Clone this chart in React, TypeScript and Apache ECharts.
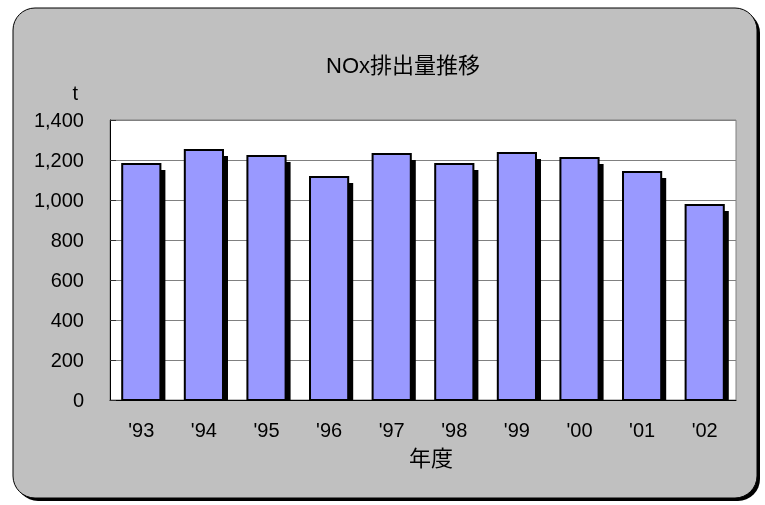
import React, { useEffect, useRef } from "react";
import * as echarts from "echarts";

// 年度別 NOx 排出量 (t)
const years = ["'93", "'94", "'95", "'96", "'97", "'98", "'99", "'00", "'01", "'02"];
const noxTonnes = [1180, 1250, 1220, 1115, 1230, 1180, 1235, 1210, 1140, 975];
const yTicks = { min: 0, max: 1400, interval: 200 };

const FONT = "'Liberation Sans', 'Noto Sans CJK JP', sans-serif";

export default function App() {
  const ref = useRef<HTMLDivElement>(null);

  useEffect(() => {
    if (!ref.current) return;
    const chart = echarts.init(ref.current, null, { renderer: "svg" });

    const option: any = {
      animation: false,
      textStyle: { fontFamily: FONT },
      graphic: [
        {
          type: "rect",
          z: -20,
          silent: true,
          shape: { x: 16, y: 11, width: 744, height: 490, r: 22 },
          style: { fill: "#000" },
        },
        {
          type: "rect",
          z: -10,
          silent: true,
          shape: { x: 13, y: 8, width: 744, height: 490, r: 22 },
          style: { fill: "#c0c0c0", stroke: "#000", lineWidth: 1 },
        },
      ],
      title: {
        text: "NOx排出量推移",
        left: 398,
        top: 49,
        textAlign: "center",
        textStyle: { fontFamily: FONT, fontSize: 22, fontWeight: "normal", color: "#000" },
      },
      grid: {
        left: 110,
        right: 29,
        top: 120,
        bottom: 105,
        show: true,
        backgroundColor: "#fff",
        borderColor: "#808080",
        borderWidth: 1,
      },
      xAxis: {
        type: "category",
        data: years,
        name: "年度",
        nameLocation: "middle",
        nameGap: 47,
        nameTextStyle: { fontFamily: FONT, fontSize: 22, color: "#000", padding: [0, 0, 0, 16] },
        axisLine: { lineStyle: { color: "#000", width: 1 } },
        axisTick: { show: false },
        axisLabel: { fontFamily: FONT, fontSize: 20, color: "#000", margin: 20 },
      },
      yAxis: {
        type: "value",
        min: yTicks.min,
        max: yTicks.max,
        interval: yTicks.interval,
        name: "t",
        nameLocation: "end",
        nameGap: 17,
        nameTextStyle: { fontFamily: FONT, fontSize: 20, color: "#000", align: "right", padding: [0, 32, 0, 0] },
        axisLine: { show: true, lineStyle: { color: "#000", width: 1 } },
        axisTick: { show: true, inside: true, length: 6, lineStyle: { color: "#333" } },
        axisLabel: {
          fontFamily: FONT,
          fontSize: 20,
          color: "#000",
          margin: 26,
          formatter: (v: number) => v.toLocaleString("en-US"),
        },
        splitLine: { show: true, lineStyle: { color: "#808080", width: 1 } },
      },
      series: [
        {
          type: "custom",
          data: noxTonnes.map((v, i) => [i, v]),
          encode: { x: 0, y: 1 },
          renderItem: (params: any, api: any) => {
            const top = api.coord([api.value(0), api.value(1)]);
            const base = api.coord([api.value(0), 0]);
            const w = api.size([1, 0])[0] * 0.61;
            const x = top[0] - w / 2;
            const h = base[1] - top[1];
            return {
              type: "group",
              children: [
                {
                  type: "rect",
                  shape: { x: x + 5, y: top[1] + 6, width: w, height: h - 6 },
                  style: { fill: "#000" },
                },
                {
                  type: "rect",
                  shape: { x, y: top[1], width: w, height: h },
                  style: { fill: "#9999ff", stroke: "#000", lineWidth: 2 },
                },
              ],
            };
          },
        },
      ],
    };

    chart.setOption(option);
    return () => chart.dispose();
  }, []);

  return (
    <div
      ref={ref}
      style={{ position: "fixed", left: 0, top: 0, width: 765, height: 505 }}
    />
  );
}
